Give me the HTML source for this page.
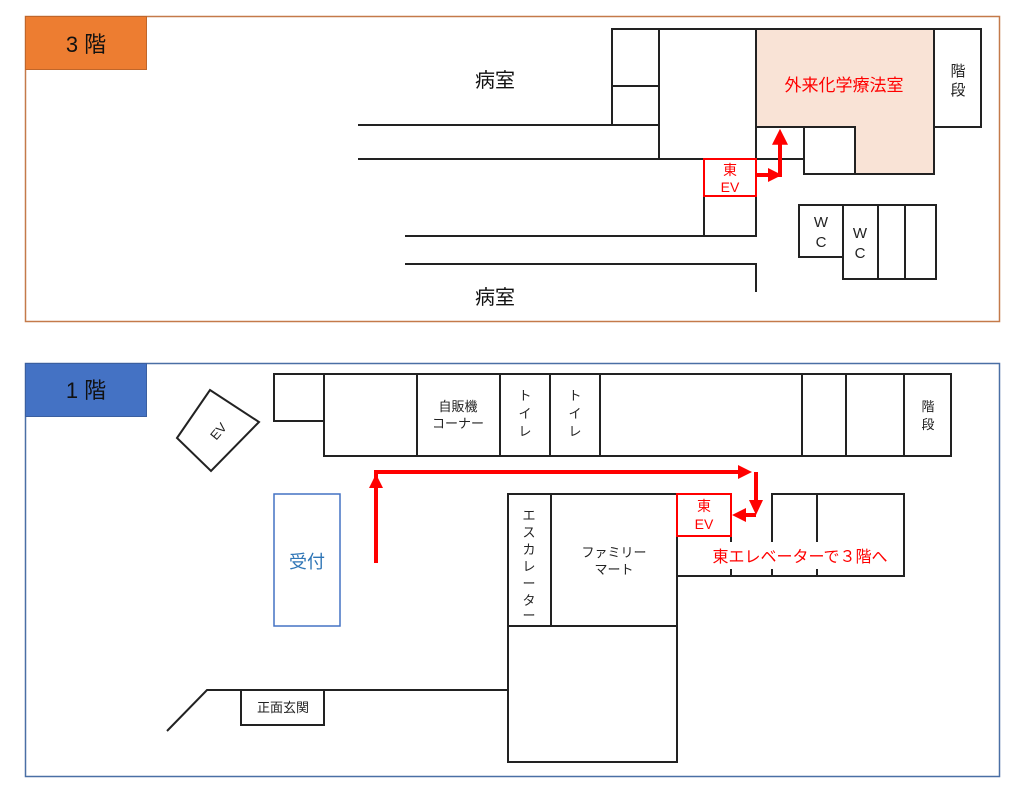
<!DOCTYPE html>
<html><head><meta charset="utf-8"><style>
html,body{margin:0;padding:0;background:#fff;}
svg{display:block;}
text{font-family:"Liberation Sans","Noto Sans CJK JP",sans-serif;}
</style></head><body>
<svg width="1024" height="796" viewBox="0 0 1024 796" xmlns="http://www.w3.org/2000/svg">
<defs>
<marker id="ah" markerWidth="4" markerHeight="4" refX="2.2" refY="2" orient="auto" markerUnits="strokeWidth">
<path d="M0,0 L4,2 L0,4 z" fill="#f00"/></marker>
</defs>
<!-- 3F -->
<rect x="25.5" y="16.5" width="974" height="305" fill="none" stroke="#c47a4a" stroke-width="1.5"/>
<rect x="25.5" y="16.5" width="121" height="53" fill="#ed7d31" stroke="#c0662a" stroke-width="1"/>
<text x="86" y="52" font-size="22" text-anchor="middle" fill="#111">3 階</text>
<g fill="none" stroke="#222" stroke-width="2">
<polygon points="756,29 934,29 934,174 855,174 855,127 756,127" fill="#f9e3d6"/>
<rect x="612" y="29" width="47" height="57"/>
<rect x="612" y="86" width="47" height="39"/>
<rect x="659" y="29" width="97" height="130"/>
<rect x="804" y="127" width="51" height="47"/>
<rect x="934" y="29" width="47" height="98"/>
<line x1="358" y1="125" x2="612" y2="125"/>
<line x1="358" y1="159" x2="804" y2="159"/>
<rect x="704" y="196" width="52" height="40"/>
<line x1="405" y1="236" x2="704" y2="236"/>
<polyline points="405,264 756,264 756,292"/>
<rect x="799" y="205" width="44" height="52"/>
<rect x="843" y="205" width="35" height="74"/>
<rect x="878" y="205" width="27" height="74"/>
<rect x="905" y="205" width="31" height="74"/>
</g>
<rect x="704" y="159" width="52" height="37" fill="#fff" stroke="#f00" stroke-width="2"/>
<text x="730" y="175" font-size="14" text-anchor="middle" fill="#f00">東</text>
<text x="730" y="192" font-size="14" text-anchor="middle" fill="#f00">EV</text>
<polyline points="756,175 780,175 780,136" fill="none" stroke="#f00" stroke-width="4" marker-end="url(#ah)"/>
<path d="M768,168 L782,175 L768,182 z" fill="#f00"/>
<text x="844" y="91" font-size="17" text-anchor="middle" fill="#f00">外来化学療法室</text>
<text x="958" y="76" font-size="15" text-anchor="middle" fill="#222">階</text>
<text x="958" y="95" font-size="15" text-anchor="middle" fill="#222">段</text>
<text x="821" y="227" font-size="15" text-anchor="middle" fill="#222">W</text>
<text x="821" y="247" font-size="15" text-anchor="middle" fill="#222">C</text>
<text x="860" y="238" font-size="15" text-anchor="middle" fill="#222">W</text>
<text x="860" y="258" font-size="15" text-anchor="middle" fill="#222">C</text>
<text x="495" y="87" font-size="20" text-anchor="middle" fill="#111">病室</text>
<text x="495" y="304" font-size="20" text-anchor="middle" fill="#111">病室</text>

<!-- 1F -->
<rect x="25.5" y="363.5" width="974" height="413" fill="none" stroke="#4a6fa5" stroke-width="1.5"/>
<rect x="25.5" y="363.5" width="121" height="53" fill="#4472c4" stroke="#3a5fa0" stroke-width="1"/>
<text x="86" y="398" font-size="22" text-anchor="middle" fill="#111">1 階</text>
<g fill="none" stroke="#222" stroke-width="2">
<rect x="274" y="374" width="50" height="47"/>
<rect x="324" y="374" width="627" height="82"/>
<line x1="417" y1="374" x2="417" y2="456"/>
<line x1="500" y1="374" x2="500" y2="456"/>
<line x1="550" y1="374" x2="550" y2="456"/>
<line x1="600" y1="374" x2="600" y2="456"/>
<line x1="802" y1="374" x2="802" y2="456"/>
<line x1="846" y1="374" x2="846" y2="456"/>
<line x1="904" y1="374" x2="904" y2="456"/>
<polygon points="177,438 210,390 259,422 211,471"/>
<rect x="508" y="494" width="43" height="132"/>
<rect x="551" y="494" width="126" height="132"/>
<rect x="508" y="626" width="169" height="136"/>
<polyline points="677,536 731,536 731,576"/>
<polyline points="677,576 904,576 904,494 772,494 772,576"/>
<line x1="817" y1="494" x2="817" y2="576"/>
<polyline points="167,731 207,690 508,690"/>
<rect x="241" y="690" width="83" height="35" fill="#fff"/>
</g>
<rect x="679" y="542" width="224" height="27" fill="#fff"/>
<rect x="274" y="494" width="66" height="132" fill="none" stroke="#4472c4" stroke-width="1.5"/>
<text x="307" y="568" font-size="18" text-anchor="middle" fill="#2e75b6">受付</text>
<text x="218" y="436" font-size="13" text-anchor="middle" fill="#222" transform="rotate(-50 218 431)">EV</text>
<rect x="677" y="494" width="54" height="42" fill="#fff" stroke="#f00" stroke-width="2"/>
<text x="704" y="511" font-size="14" text-anchor="middle" fill="#f00">東</text>
<text x="704" y="529" font-size="14" text-anchor="middle" fill="#f00">EV</text>
<text x="800" y="562" font-size="16" text-anchor="middle" fill="#f00">東エレベーターで３階へ</text>
<polyline points="376,563 376,472 742,472" fill="none" stroke="#f00" stroke-width="4"/>
<path d="M369,488 L376,474 L383,488 z" fill="#f00"/>
<path d="M738,465 L752,472 L738,479 z" fill="#f00"/>
<line x1="756" y1="472" x2="756" y2="503" stroke="#f00" stroke-width="4"/>
<path d="M749,500 L756,515 L763,500 z" fill="#f00"/>
<line x1="756" y1="515" x2="742" y2="515" stroke="#f00" stroke-width="4"/>
<path d="M746,508 L732,515 L746,522 z" fill="#f00"/>
<g font-size="13" fill="#222" text-anchor="middle">
<text x="458" y="411">自販機</text>
<text x="458" y="428">コーナー</text>
<text x="525" y="400">ト</text><text x="525" y="418">イ</text><text x="525" y="436">レ</text>
<text x="575" y="400">ト</text><text x="575" y="418">イ</text><text x="575" y="436">レ</text>
<text x="928" y="411">階</text><text x="928" y="429">段</text>
<text x="614" y="557">ファミリー</text>
<text x="614" y="574">マート</text>
<text x="283" y="712">正面玄関</text>
<text x="529" y="520">エ</text><text x="529" y="537">ス</text><text x="529" y="554">カ</text><text x="529" y="571">レ</text><text x="529" y="588">ー</text><text x="529" y="605">タ</text><text x="529" y="620">ー</text>
</g>
</svg>
</body></html>
